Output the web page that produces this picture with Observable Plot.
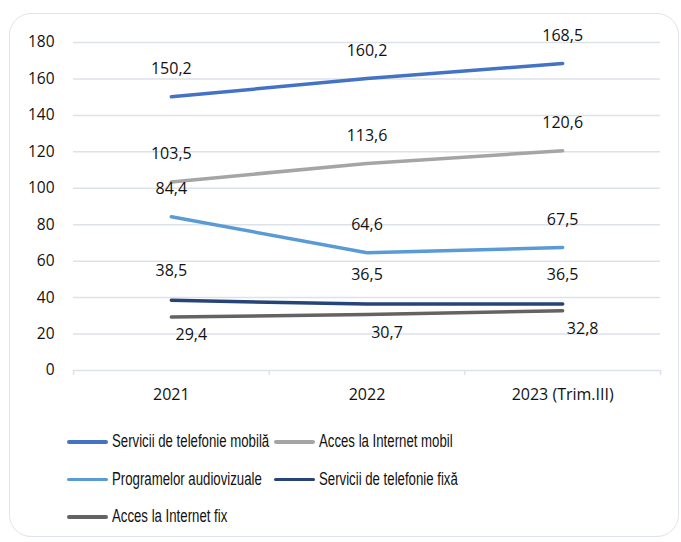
<!DOCTYPE html>
<html>
<head>
<meta charset="utf-8">
<script src="https://cdn.jsdelivr.net/npm/d3@7"></script>
<script src="https://cdn.jsdelivr.net/npm/@observablehq/plot@0.6"></script>
<style>
  html, body { margin: 0; padding: 0; background: #fff; }
  #wrap { position: relative; width: 681px; height: 542px; overflow: hidden; background: #fff; }
  #frame { position: absolute; left: 9px; top: 13px; width: 670px; height: 524px; border: 1.5px solid #dfe3ea; border-radius: 22px; box-sizing: border-box; }
  #chart { position: absolute; left: 0; top: 0; }
  #legend { position: absolute; left: 67px; top: 423px; display: grid; grid-template-columns: 207px 230px; grid-auto-rows: 37.5px; align-items: center;
    font-family: "Liberation Sans", Arial, sans-serif; font-size: 17.5px; color: #111; }
  .item { display: flex; align-items: center; white-space: nowrap; overflow: visible; }
  .sw { flex: 0 0 41px; width: 41px; height: 3.5px; border-radius: 2px; margin-right: 4px; }
  .tx { display: inline-block; transform: scaleX(0.755); transform-origin: 0 50%; }
</style>
</head>
<body>
<div id="wrap">
  <div id="frame"></div>
  <div id="chart"></div>
  <div id="legend"></div>
</div>
<script>
const categories = ["2021", "2022", "2023 (Trim.III)"];
const seriesNames = ["Servicii de telefonie mobilă", "Acces la Internet mobil", "Programelor audiovizuale", "Servicii de telefonie fixă", "Acces la Internet fix"];
const mobila = [150.2, 160.2, 168.5];
const internetMobil = [103.5, 113.6, 120.6];
const audiovizuale = [84.4, 64.6, 67.5];
const telefonieFixa = [38.5, 36.5, 36.5];
const internetFix = [29.4, 30.7, 32.8];
const yTicks = [0, 20, 40, 60, 80, 100, 120, 140, 160, 180];

const seriesValues = [mobila, internetMobil, audiovizuale, telefonieFixa, internetFix];
const colors = ["#4472C4", "#A5A5A5", "#5B9BD5", "#264478", "#636363"];
const labelOffsets = [[0, -28], [0, -28], [0, -28], [0, -29], [20, 18]];

const rows = [];
seriesNames.forEach((name, s) => {
  seriesValues[s].forEach((v, i) => rows.push({ series: name, s, i: i + 0.5, value: v, label: v.toFixed(1).replace(".", ",") }));
});

const marks = [
  Plot.ruleY(yTicks, { stroke: "#dde2ea", strokeWidth: 1.5 }),
  Plot.axisY(yTicks, { tickSize: 0, tickPadding: 19, fontSize: 15.5, fill: "#111", label: null }),
  Plot.axisX(d3.range(categories.length + 1), { tickSize: 5, stroke: "#dde2ea", strokeWidth: 1.5, tickFormat: () => "", label: null }),
  Plot.axisX(categories.map((c, i) => i + 0.5), { tickSize: 0, tickPadding: 18, fontSize: 16, fill: "#111", tickFormat: d => categories[d - 0.5], label: null })
];
seriesNames.forEach((name, s) => {
  const data = rows.filter(r => r.s === s);
  marks.push(Plot.line(data, { x: "i", y: "value", stroke: colors[s], strokeWidth: 3.5, strokeLinecap: "round", strokeLinejoin: "round" }));
});
seriesNames.forEach((name, s) => {
  const data = rows.filter(r => r.s === s);
  marks.push(Plot.text(data, { x: "i", y: "value", text: "label", dx: labelOffsets[s][0], dy: labelOffsets[s][1], fontSize: 16, fill: "#111" }));
});

const chart = Plot.plot({
  width: 681,
  height: 410,
  marginLeft: 73,
  marginRight: 21,
  marginTop: 42,
  marginBottom: 40,
  style: { fontFamily: "'Open Sans', sans-serif", background: "transparent", color: "#111" },
  x: { type: "linear", domain: [0, categories.length], axis: null },
  y: { domain: [0, 180], axis: null },
  marks
});
document.getElementById("chart").appendChild(chart);

const legend = document.getElementById("legend");
seriesNames.forEach((name, s) => {
  const it = document.createElement("div");
  it.className = "item";
  it.innerHTML = `<span class="sw" style="background:${colors[s]}"></span><span class="tx">${name}</span>`;
  legend.appendChild(it);
});
</script>
</body>
</html>
